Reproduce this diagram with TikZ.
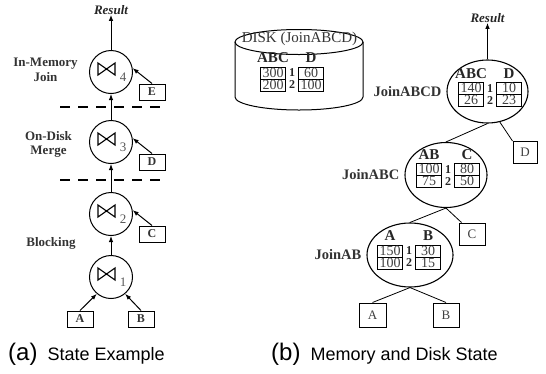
\documentclass[tikz,border=0pt]{standalone}
\usepackage{fontspec}
\setmainfont{Liberation Serif}
\newfontfamily\capfont{Liberation Sans}
\usetikzlibrary{arrows.meta,shapes.geometric,calc}
\newcommand\jtab[9]{%
 \draw[grid] (#2-31.5,#3-6) rectangle (#2-6.5,#3+18);
 \draw[grid] (#2-31.5,#3+6) -- (#2-6.5,#3+6);
 \draw[grid] (#2+6.5,#3-6) rectangle (#2+31.5,#3+18);
 \draw[grid] (#2+6.5,#3+6) -- (#2+31.5,#3+6);
 \node[hdr] (#1h1) at (#2-19,#3-15) {#4};
 \node[hdr] (#1h2) at (#2+19,#3-15) {#5};
 \node[cell] (#1a1) at (#2-19,#3) {#6};
 \node[cell] (#1b1) at (#2+19,#3) {#7};
 \node[cell] (#1a2) at (#2-19,#3+12) {#8};
 \node[cell] (#1b2) at (#2+19,#3+12) {#9};
 \node[idx] (#1i1) at (#2,#3) {1};
 \node[idx] (#1i2) at (#2,#3+12) {2};}
\begin{document}
\begin{tikzpicture}[x=1pt,y=-1pt,
 every node/.style={inner sep=0pt},
 lbl/.style={font=\fontsize{13}{15}\selectfont\bfseries, text=black!80},
 res/.style={font=\fontsize{13}{15}\selectfont\bfseries\itshape, text=black!85},
 jn/.style={circle, draw, line width=1pt, minimum size=43pt},
 sub/.style={font=\fontsize{13}{13}\selectfont, text=black!65},
 lbox/.style={draw, line width=1pt, minimum width=26pt, minimum height=16pt, font=\fontsize{12}{12}\selectfont\bfseries, text=black!80},
 arr/.style={-{Latex[length=6pt,width=4.5pt]}, line width=1pt},
 sepline/.style={dash pattern=on 10pt off 8pt, line width=1.2pt},
 jell/.style={ellipse, draw, line width=1.1pt},
 rbox/.style={draw, line width=1pt, minimum width=24pt, minimum height=22pt, font=\fontsize{13}{13}\selectfont, text=black!75},
 grid/.style={line width=0.6pt},
 cell/.style={text height=9pt, text depth=0pt, yshift=0.4pt, font=\fontsize{14}{14}\selectfont, text=black!75},
 hdr/.style={font=\fontsize{15}{15}\selectfont\bfseries, text=black!85},
 idx/.style={font=\fontsize{12}{12}\selectfont\bfseries, text=black!85},
 jlbl/.style={font=\fontsize{14.5}{15}\selectfont\bfseries, text=black!80},
 tline/.style={line width=0.8pt},
 bowtie/.pic={\draw[line width=1.1pt, line join=miter] (-8.5,-6) -- (-8.5,6) -- (8.5,-6) -- (8.5,6) -- cycle;}
]
\useasboundingbox (0,0) rectangle (546,373);

% ---------- (a) ----------
\node[res] (lres) at (111,10) {Result};
\node[jn] (c4) at (111,72) {};
\node[jn] (c3) at (111,142) {};
\node[jn] (c2) at (111,214) {};
\node[jn] (c1) at (111,277) {};
\foreach \n/\y in {4/72,3/142,2/214,1/277}{
  \pic at (106.5,\y-3) {bowtie};
  \node[sub] (s\n) at (123,\y+5) {\n};
}
\node[lbox] (bE) at (152,92) {E};
\node[lbox] (bD) at (152,162) {D};
\node[lbox] (bC) at (152,234) {C};
\node[lbox] (bA) at (80,319) {A};
\node[lbox] (bB) at (141,319) {B};

\draw[arr] (c4) -- (lres);
\draw[arr] (c3) -- (c4);
\draw[arr] (c2) -- (c3);
\draw[arr] (c1) -- (c2);
\draw[arr] (bE.north) -- (c4.10);
\draw[arr] (bD.north) -- (c3.10);
\draw[arr] (bC.north) -- (c2.10);
\draw[arr] (bA.north) -- (c1.-130);
\draw[arr] (bB.north) -- (c1.-50);

\coordinate (d1a) at (60,107);
\coordinate (d1b) at (160,107);
\coordinate (d2a) at (60,180);
\coordinate (d2b) at (160,180);
\draw[sepline] (d1a) -- (d1b);
\draw[sepline] (d2a) -- (d2b);

\node[lbl, anchor=base] (l1) at (45.5,66.3) {In-Memory};
\node[lbl, anchor=base] (l2) at (45.5,81.3) {Join};
\node[lbl, anchor=base] (l3) at (48.5,140.3) {On-Disk};
\node[lbl, anchor=base] (l4) at (48.5,154.3) {Merge};
\node[lbl, anchor=base] (l5) at (51,246) {Blocking};

\node[anchor=base west, font=\capfont] (capa) at (8,360) {{\fontsize{24}{24}\selectfont (a)}\hspace{10pt}{\fontsize{18}{18}\selectfont State Example}};

% ---------- (b) ----------
\draw[line width=1pt] (299,42) ellipse [x radius=64pt, y radius=12.5pt];
\draw[line width=1pt] (235,42) -- (235,97) arc[start angle=180, end angle=360, x radius=64pt, y radius=13pt] -- (363,42);
\node[font=\fontsize{15}{15}\selectfont, text=black!80] (disklbl) at (299.5,39) {DISK (JoinABCD)};
\jtab{t0}{292}{73}{ABC}{D}{300}{60}{200}{100}

\node[res] (rres) at (487.5,18) {Result};
\node[jell, minimum width=81pt, minimum height=63pt] (jABCD) at (487.5,91.5) {};
\node[jell, minimum width=82pt, minimum height=65pt] (jABC) at (446,175) {};
\node[jell, minimum width=86pt, minimum height=64pt] (jAB) at (410,255) {};
\node[jlbl, anchor=east] (tABCD) at ([xshift=-5pt]jABCD.west) {JoinABCD};
\node[jlbl, anchor=east] (tABC) at ([xshift=-5pt]jABC.west) {JoinABC};
\node[jlbl, anchor=east] (tAB) at ([xshift=-5pt]jAB.west) {JoinAB};

\jtab{t1}{490}{88.5}{ABC}{D}{140}{10}{26}{23}
\jtab{t2}{448}{169.5}{AB}{C}{100}{80}{75}{50}
\jtab{t3}{409}{251}{A}{B}{150}{30}{100}{15}

\node[rbox] (rD) at (525,152.5) {D};
\node[rbox, minimum width=26pt] (rC) at (472,234) {C};
\node[rbox, minimum width=27pt, minimum height=24pt] (rA) at (372.5,315) {A};
\node[rbox, minimum width=26pt, minimum height=24pt] (rB) at (446,315) {B};

\draw[arr] (jABCD) -- (rres);
\draw[tline] (jABCD.south) -- (jABC.north);
\draw[tline] (jABCD.-68) -- (rD.north west);
\draw[tline] (jABC.south) -- ([xshift=3pt]rC.north west);
\draw[tline] (jABC.south) -- (jAB.north);
\draw[tline] (jAB.south) -- (rA.north);
\draw[tline] (jAB.south) -- (rB.north);

\node[anchor=base west, font=\capfont] (capb) at (271,360) {{\fontsize{24}{24}\selectfont (b)}\hspace{10pt}{\fontsize{18}{18}\selectfont Memory and Disk State}};
\end{tikzpicture}
\end{document}
